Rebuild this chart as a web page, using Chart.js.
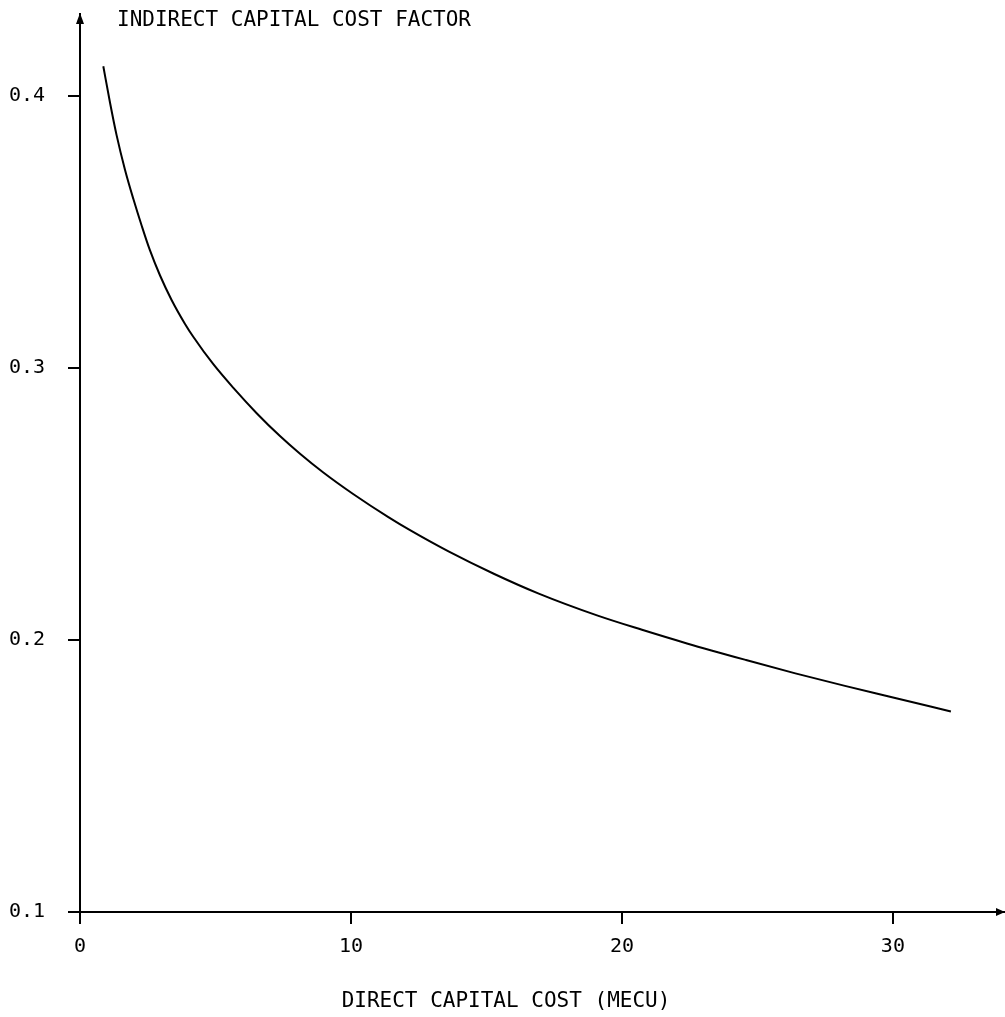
<!DOCTYPE html>
<html>
<head>
<meta charset="utf-8">
<title>Indirect capital cost factor</title>
<script src="https://cdn.jsdelivr.net/npm/chart.js@4.4.1/dist/chart.umd.min.js"></script>
<style>
  html, body { margin: 0; padding: 0; background: #fff; }
  .chart-wrapper { width: 1005px; height: 1017px; position: relative; }
</style>
</head>
<body>
<div class="chart-wrapper"><canvas id="costChart"></canvas></div>
<script>
// values
const directCost = [0.86, 1.11, 1.35, 1.66, 1.97, 2.28, 2.58, 2.95, 3.38, 3.87, 4.18, 4.92, 5.66, 6.52, 7.38, 8.12, 8.98, 10.08, 11.38, 12.18, 13.6, 15.27, 16.93, 19.08, 20.74, 22.4, 24.58, 26.4, 28.23, 29.89, 32.14];
const indirectFactor = [0.4108, 0.3973, 0.3855, 0.3728, 0.362, 0.3521, 0.3432, 0.334, 0.3249, 0.3162, 0.3114, 0.3013, 0.2926, 0.2833, 0.2749, 0.2684, 0.2615, 0.2536, 0.2451, 0.2403, 0.2325, 0.2243, 0.217, 0.209, 0.2037, 0.1987, 0.1926, 0.1877, 0.1831, 0.1791, 0.1737];

const xTicks = [0, 10, 20, 30];
const yTicks = [0.1, 0.2, 0.3, 0.4];
const xTitle = 'DIRECT CAPITAL COST (MECU)';
const yTitle = 'INDIRECT CAPITAL COST FACTOR';

const ink = '#000';
const tickFont = {family: "'DejaVu Sans Mono', monospace", size: 20};

// arrow heads on the axes + the two axis captions
const axisDecor = {
  id: 'axisDecor',
  afterDraw(chart) {
    const {ctx, chartArea} = chart;
    ctx.save();
    ctx.fillStyle = ink;

    ctx.beginPath();
    ctx.moveTo(chartArea.left, chartArea.top - 1);
    ctx.lineTo(chartArea.left - 4, chartArea.top + 10);
    ctx.lineTo(chartArea.left + 4, chartArea.top + 10);
    ctx.closePath();
    ctx.fill();

    ctx.beginPath();
    ctx.moveTo(chartArea.right + 1, chartArea.bottom);
    ctx.lineTo(chartArea.right - 8, chartArea.bottom - 4);
    ctx.lineTo(chartArea.right - 8, chartArea.bottom + 4);
    ctx.closePath();
    ctx.fill();

    ctx.font = "21px 'DejaVu Sans Mono', monospace";
    ctx.textBaseline = 'middle';
    ctx.textAlign = 'left';
    ctx.fillText(yTitle, chartArea.left + 37, chartArea.top + 7);
    ctx.textAlign = 'center';
    ctx.fillText(xTitle, 506, chart.height - 15);
    ctx.restore();
  }
};

const axisStyle = {
  grid: {drawOnChartArea: false, drawTicks: true, tickLength: 12, lineWidth: 2, color: ink},
  border: {display: true, color: ink, width: 2},
};

function noScalePadding(scale) {
  scale.paddingTop = 0;
  scale.paddingBottom = 0;
  scale.paddingLeft = 0;
  scale.paddingRight = 0;
}

const context = document.getElementById('costChart').getContext('2d');

// eslint-disable-next-line no-undef
const costChart = new Chart(context, {
  type: 'line',
  data: {
    datasets: [{
      label: yTitle,
      data: directCost.map((x, i) => ({x: x, y: indirectFactor[i]})),
      borderColor: ink,
      borderWidth: 2,
      pointRadius: 0,
      fill: false,
      cubicInterpolationMode: 'monotone',
    }],
  },
  options: {
    responsive: true,
    maintainAspectRatio: false,
    animation: false,
    layout: {padding: {top: 14, right: 1, left: 0, bottom: 0}},
    plugins: {
      legend: {display: false},
      title: {display: false},
      tooltip: {enabled: false},
    },
    scales: {
      x: {
        type: 'linear',
        min: 0,
        max: 34.1,
        ...axisStyle,
        afterBuildTicks: (scale) => { scale.ticks = xTicks.map(value => ({value})); },
        afterFit: (scale) => { scale.height = 105; noScalePadding(scale); },
        ticks: {color: ink, font: tickFont, padding: 11, maxRotation: 0,
          callback: (value) => String(value)},
      },
      y: {
        type: 'linear',
        min: 0.1,
        max: 0.43,
        ...axisStyle,
        afterBuildTicks: (scale) => { scale.ticks = yTicks.map(value => ({value})); },
        afterFit: (scale) => { scale.width = 80; noScalePadding(scale); },
        ticks: {color: ink, font: tickFont, padding: 23,
          callback: (value) => value.toFixed(1)},
      },
    },
  },
  plugins: [axisDecor],
});
</script>
</body>
</html>
